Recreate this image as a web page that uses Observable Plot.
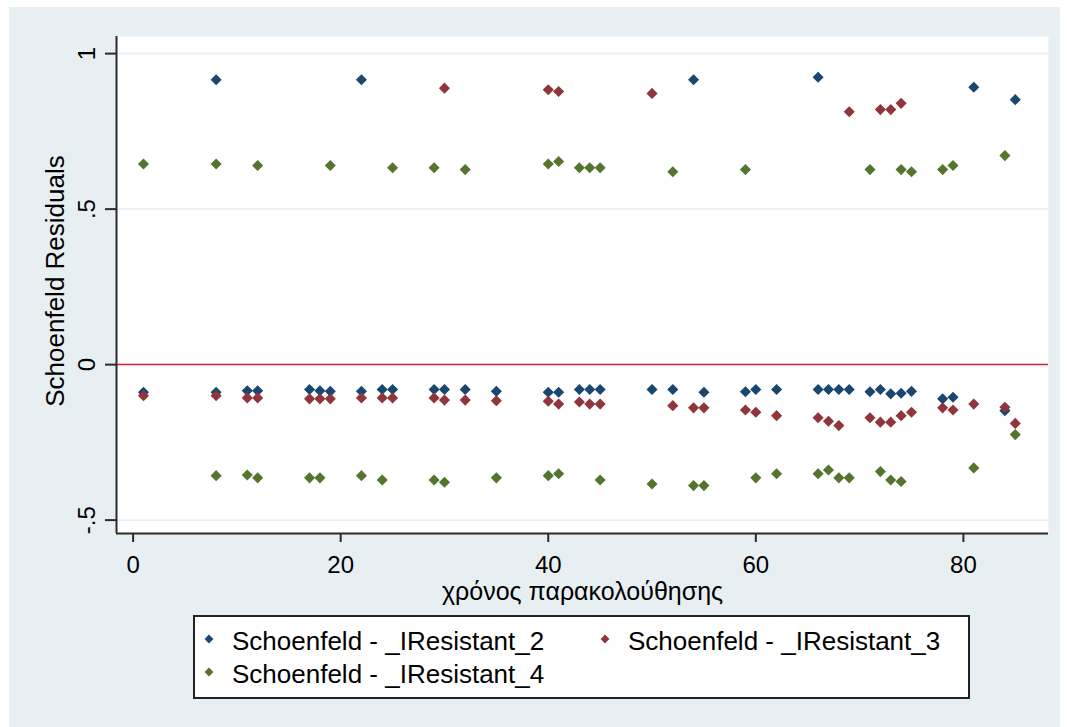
<!DOCTYPE html>
<html>
<head>
<meta charset="utf-8">
<script src="https://cdn.jsdelivr.net/npm/d3@7"></script>
<script src="https://cdn.jsdelivr.net/npm/@observablehq/plot@0.6"></script>
<style>
  html, body { margin: 0; padding: 0; background: #ffffff; }
  #page { position: relative; width: 1067px; height: 727px; overflow: hidden; }
  #bg { position: absolute; left: 9px; top: 7px; width: 1051px; height: 720px; background: #e8eff2; }
  #chart { position: absolute; left: 0; top: 0; }
  #legend { position: absolute; left: 0; top: 0; pointer-events: none; }
</style>
</head>
<body>
<div id="page">
  <div id="bg"></div>
  <div id="chart"></div>
  <svg id="legend" width="1067" height="727"></svg>
</div>
<script>
// Schoenfeld residuals per covariate against follow-up time
const series = ["Schoenfeld - _IResistant_2", "Schoenfeld - _IResistant_3", "Schoenfeld - _IResistant_4"];
const seriesColors = ["#1a476f", "#90353b", "#55752f"];

const r2Time  = [1, 8, 8, 11, 12, 17, 18, 19, 22, 22, 24, 25, 29, 30, 32, 35, 40, 41, 43, 44, 45, 50, 52, 54, 55, 59, 60, 62, 66, 66, 67, 68, 69, 71, 72, 73, 74, 75, 78, 79, 81, 84, 85];
const r2Resid = [-0.089, 0.916, -0.089, -0.084, -0.084, -0.080, -0.084, -0.086, 0.916, -0.086, -0.080, -0.080, -0.080, -0.080, -0.080, -0.086, -0.089, -0.089, -0.080, -0.080, -0.080, -0.080, -0.080, 0.916, -0.089, -0.087, -0.080, -0.080, 0.924, -0.080, -0.080, -0.080, -0.080, -0.087, -0.080, -0.094, -0.092, -0.086, -0.110, -0.105, 0.892, -0.148, 0.852];

const r3Time  = [1, 8, 11, 12, 17, 18, 19, 22, 24, 25, 29, 30, 30, 32, 35, 40, 40, 41, 41, 43, 44, 45, 50, 52, 54, 55, 59, 60, 62, 66, 67, 68, 69, 71, 72, 72, 73, 73, 74, 74, 75, 78, 79, 81, 84, 85];
const r3Resid = [-0.100, -0.100, -0.107, -0.107, -0.110, -0.110, -0.110, -0.107, -0.107, -0.107, -0.107, 0.889, -0.114, -0.114, -0.116, 0.884, -0.118, 0.878, -0.127, -0.120, -0.127, -0.127, 0.872, -0.132, -0.139, -0.139, -0.146, -0.153, -0.164, -0.171, -0.182, -0.196, 0.813, -0.171, 0.820, -0.185, 0.820, -0.185, 0.840, -0.164, -0.153, -0.139, -0.146, -0.127, -0.137, -0.189];

const r4Time  = [1, 8, 8, 11, 12, 12, 17, 18, 19, 22, 24, 25, 29, 29, 30, 32, 35, 40, 40, 41, 41, 43, 44, 45, 45, 50, 52, 54, 55, 59, 60, 62, 66, 67, 68, 69, 71, 72, 73, 74, 74, 75, 78, 79, 81, 84, 85];
const r4Resid = [0.645, 0.645, -0.357, -0.355, 0.640, -0.364, -0.364, -0.364, 0.640, -0.357, -0.371, 0.633, 0.633, -0.371, -0.378, 0.627, -0.364, 0.645, -0.357, 0.653, -0.351, 0.633, 0.633, 0.633, -0.371, -0.384, 0.620, -0.389, -0.389, 0.627, -0.364, -0.351, -0.351, -0.339, -0.364, -0.364, 0.627, -0.344, -0.371, 0.627, -0.376, 0.620, 0.627, 0.640, -0.332, 0.672, -0.225];

const xTicks = [0, 20, 40, 60, 80];
const yTicks = [-0.5, 0, 0.5, 1];
const gridTicks = [-0.5, 0.5, 1];
const xTitle = "χρόνος παρακολούθησης";
const yTitle = "Schoenfeld Residuals";

const xDomain = [-1.6, 88.2];
const yDomain = [-0.543, 1.055];

const rows = [];
[[r2Time, r2Resid], [r3Time, r3Resid], [r4Time, r4Resid]].forEach(([t, r], i) => {
  t.forEach((time, j) => rows.push({time, resid: r[j], series: series[i]}));
});

const font = "'Liberation Sans', Arial, sans-serif";
const axisInk = "#2a2a2a";

const chart = Plot.plot({
  width: 1067,
  height: 605,
  marginLeft: 116,
  marginRight: 19,
  marginTop: 36,
  marginBottom: 72,
  style: {background: "transparent", fontFamily: font, color: "#000"},
  x: {domain: xDomain, label: null},
  y: {domain: yDomain, label: null},
  color: {domain: series, range: seriesColors},
  marks: [
    Plot.frame({fill: "#ffffff", stroke: null}),
    Plot.ruleY(gridTicks, {stroke: "#e4edf0", strokeWidth: 1.5}),
    Plot.ruleY([0], {stroke: "#cc1f3d", strokeWidth: 1.5}),
    Plot.ruleX([xDomain[0]], {stroke: axisInk, strokeWidth: 2}),
    Plot.ruleY([yDomain[0]], {stroke: axisInk, strokeWidth: 2}),
    Plot.axisX(xTicks, {
      tickSize: 9, tickPadding: 13, fontSize: 24, stroke: axisInk, strokeWidth: 2,
      fill: "#000", label: null, tickFormat: d => String(d)
    }),
    Plot.axisY(yTicks, {
      tickSize: 11, tickRotate: -90, tickPadding: 11, fontSize: 24, stroke: axisInk, strokeWidth: 2,
      fill: "#000", label: null,
      tickFormat: d => d === 0 ? "0" : String(d).replace(/^(-?)0\./, "$1.")
    }),
    Plot.text([xTitle], {frameAnchor: "bottom", dy: 58, textAnchor: "middle", lineAnchor: "middle", fontSize: 25, fill: "#000"}),
    Plot.text([yTitle], {frameAnchor: "left", dx: -61, dy: -4, rotate: -90, textAnchor: "middle", lineAnchor: "middle", fontSize: 26, fill: "#000"}),
    Plot.dot(rows, {x: "time", y: "resid", fill: "series", symbol: "diamond2", r: 5})
  ]
});
document.getElementById("chart").appendChild(chart);

// Legend box below the plot, two columns
const color = chart.scale("color");
const legend = d3.select("#legend");
legend.append("rect")
  .attr("x", 194).attr("y", 616).attr("width", 775).attr("height", 82)
  .attr("fill", "#ffffff").attr("stroke", "#222").attr("stroke-width", 2);
const slots = [
  {mx: 209, tx: 232, my: 639, ty: 650},
  {mx: 605, tx: 628, my: 639, ty: 650},
  {mx: 209, tx: 232, my: 672, ty: 683}
];
series.forEach((name, i) => {
  const s = slots[i];
  legend.append("path")
    .attr("d", d3.symbol(d3.symbolDiamond2, 50)())
    .attr("transform", `translate(${s.mx},${s.my})`)
    .attr("fill", color.apply(name));
  legend.append("text")
    .attr("x", s.tx).attr("y", s.ty)
    .attr("font-family", font).attr("font-size", 26).attr("fill", "#000")
    .text(name);
});
</script>
</body>
</html>
